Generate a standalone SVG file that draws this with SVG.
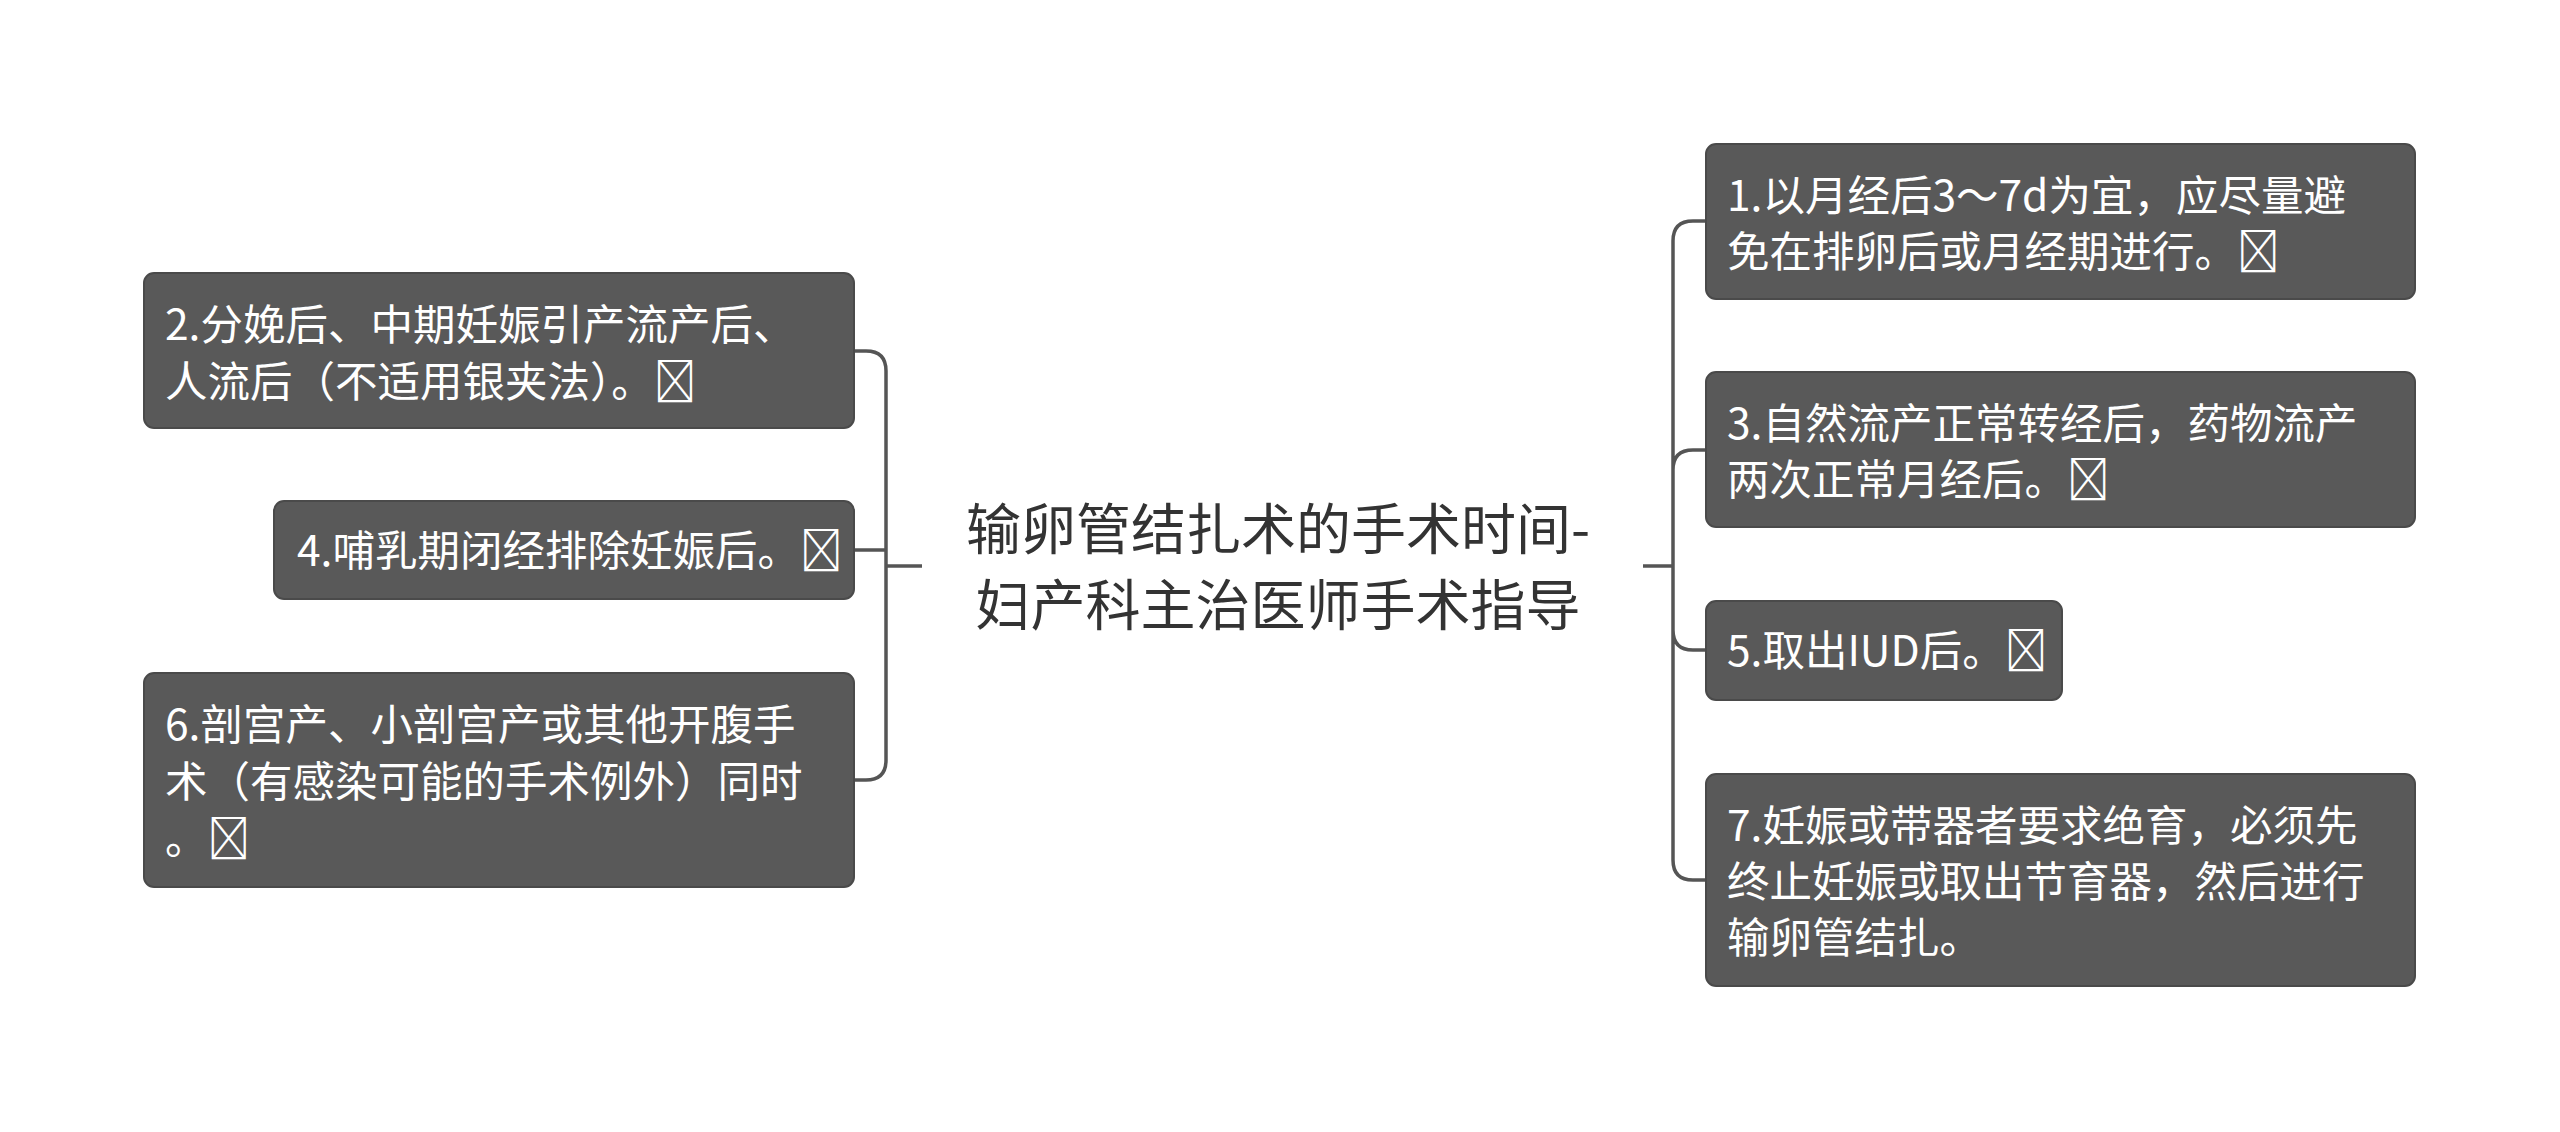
<svg xmlns="http://www.w3.org/2000/svg" width="2560" height="1132" viewBox="0 0 2560 1132">
<style>
.box{fill:#595959;stroke:#4a4a4a;stroke-width:2}
.t{font-family:"Noto Sans CJK SC","Noto Sans",sans-serif;font-size:42.5px;fill:#fff}
.c{font-family:"Noto Sans CJK SC","Noto Sans",sans-serif;font-size:55px;fill:#333;text-anchor:middle}
.ln{fill:none;stroke:#555;stroke-width:3.5}
</style>
<rect width="2560" height="1132" fill="#fff"/>
<g id="connectors">
<path class="ln" d="M922 566H886V371Q886 351 866 351H854M886 566V550H854M886 566V760Q886 780 866 780H854"/>
<path class="ln" d="M1643 566H1673V241Q1673 221 1693 221H1706M1673 470Q1673 450 1693 450H1706M1673 630Q1673 650 1693 650H1706M1673 566V860Q1673 880 1693 880H1706"/>
</g>
<g id="center"><text class="c" x="1278" y="549">输卵管结扎术的手术时间-</text><text class="c" x="1278" y="625">妇产科主治医师手术指导</text></g>
<g id="n2"><rect class="box" x="144" y="273" width="710" height="155" rx="10"/><text class="t" x="165" y="340">2.分娩后、中期妊娠引产流产后、</text><text class="t" x="165" y="397">人流后（不适用银夹法）。&#xE000;</text></g>
<g id="n4"><rect class="box" x="274" y="501" width="580" height="98" rx="10"/><text class="t" x="297" y="566">4.哺乳期闭经排除妊娠后。&#xE000;</text></g>
<g id="n6"><rect class="box" x="144" y="673" width="710" height="214" rx="10"/><text class="t" x="165" y="740">6.剖宫产、小剖宫产或其他开腹手</text><text class="t" x="165" y="797">术（有感染可能的手术例外）同时</text><text class="t" x="165" y="854">。&#xE000;</text></g>
<g id="n1"><rect class="box" x="1706" y="144" width="709" height="155" rx="10"/><text class="t" x="1727" y="211">1.以月经后3～7d为宜，应尽量避</text><text class="t" x="1727" y="267">免在排卵后或月经期进行。&#xE000;</text></g>
<g id="n3"><rect class="box" x="1706" y="372" width="709" height="155" rx="10"/><text class="t" x="1727" y="439">3.自然流产正常转经后，药物流产</text><text class="t" x="1727" y="495">两次正常月经后。&#xE000;</text></g>
<g id="n5"><rect class="box" x="1706" y="601" width="356" height="99" rx="10"/><text class="t" x="1727" y="666">5.取出IUD后。&#xE000;</text></g>
<g id="n7"><rect class="box" x="1706" y="774" width="709" height="212" rx="10"/><text class="t" x="1727" y="841">7.妊娠或带器者要求绝育，必须先</text><text class="t" x="1727" y="897">终止妊娠或取出节育器，然后进行</text><text class="t" x="1727" y="953">输卵管结扎。</text></g>
</svg>
